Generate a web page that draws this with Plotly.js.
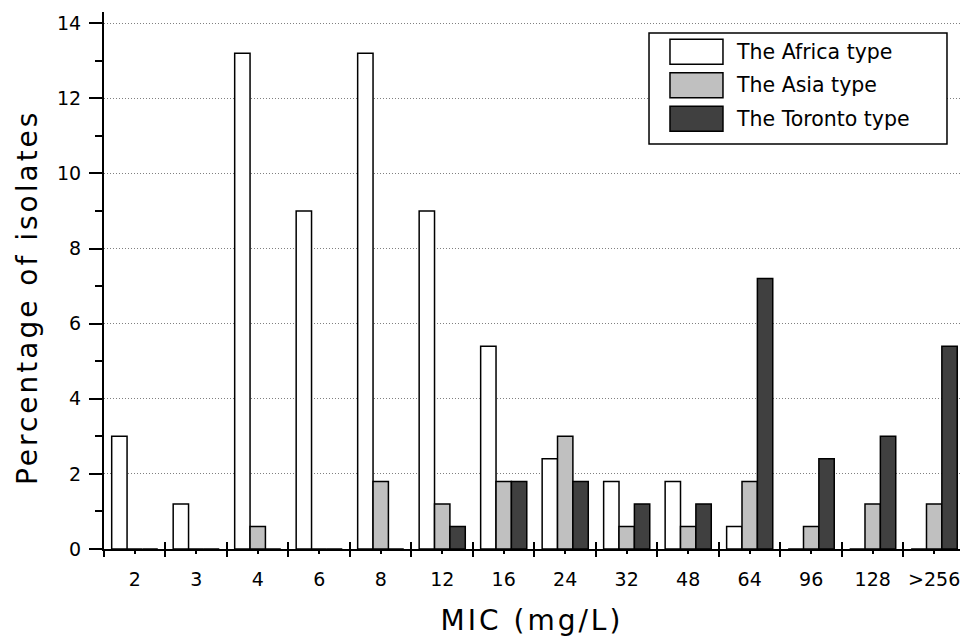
<!DOCTYPE html>
<html>
<head>
<meta charset="utf-8">
<script src="https://cdn.plot.ly/plotly-3.0.1.min.js"></script>
<style>
  html, body { margin: 0; padding: 0; background: #fff; }
  #chart { width: 960px; height: 642px; }
  .g-xtitle text { letter-spacing: 3px; }
  .annotation[data-index="3"] text { letter-spacing: 3px; }
</style>
</head>
<body>
<div id="chart"></div>
<script>
// ---- data ----
const categories = ['2', '3', '4', '6', '8', '12', '16', '24', '32', '48', '64', '96', '128', '>256'];
const africa  = [3.0, 1.2, 13.2, 9.0, 13.2, 9.0, 5.4, 2.4, 1.8, 1.8, 0.6, 0, 0, 0];
const asia    = [0, 0, 0.6, 0, 1.8, 1.2, 1.8, 3.0, 0.6, 0.6, 1.8, 0.6, 1.2, 1.2];
const toronto = [0, 0, 0, 0, 0, 0.6, 1.8, 1.8, 1.2, 1.2, 7.2, 2.4, 3.0, 5.4];
const seriesNames  = ['The Africa type', 'The Asia type', 'The Toronto type'];
const seriesValues = [africa, asia, toronto];
const seriesColors = ['#ffffff', '#c0c0c0', '#404040'];
const xTitle = 'MIC (mg/L)';
const yTitle = 'Percentage of isolates';
const yTicks = [0, 2, 4, 6, 8, 10, 12, 14];

const FONT = '"DejaVu Sans", Verdana, sans-serif';
const xRange = [-0.5, 13.42];
const boundaries = categories.map((c, i) => i - 0.5).concat([categories.length - 0.5]);

const traces = seriesValues.map((vals, k) => ({
  type: 'bar',
  name: seriesNames[k],
  x: categories,
  y: vals,
  xaxis: 'x',
  yaxis: 'y',
  marker: { color: seriesColors[k], line: { color: '#000', width: 1.5 } },
  showlegend: false,
  hoverinfo: 'x+y+name'
}));
// empty helper traces so the overlay tick axes are drawn
traces.push({ type: 'scatter', x: [], y: [], xaxis: 'x2', yaxis: 'y', showlegend: false, hoverinfo: 'skip' });
traces.push({ type: 'scatter', x: [], y: [], xaxis: 'x3', yaxis: 'y', showlegend: false, hoverinfo: 'skip' });

// manual legend with large swatches
const shapes = [];
const annotations = [];
const lgX0 = 0.6367, lgX1 = 0.9848, lgY0 = 0.7542, lgY1 = 0.9609;
shapes.push({ type: 'rect', xref: 'paper', yref: 'paper', x0: lgX0, x1: lgX1, y0: lgY0, y1: lgY1,
  fillcolor: '#fff', line: { color: '#000', width: 1.5 }, layer: 'above' });
const rowCenters = [0.9259, 0.8635, 0.8011];
const swH = 0.0466;
seriesNames.forEach((name, k) => {
  shapes.push({ type: 'rect', xref: 'paper', yref: 'paper', x0: 0.6612, x1: 0.7231,
    y0: rowCenters[k] - swH / 2, y1: rowCenters[k] + swH / 2,
    fillcolor: seriesColors[k], line: { color: '#000', width: 1.5 }, layer: 'above' });
  annotations.push({ xref: 'paper', yref: 'paper', x: 0.7360, y: rowCenters[k],
    xanchor: 'left', yanchor: 'middle', showarrow: false, text: name,
    font: { family: FONT, size: 20.5, color: '#000' } });
});
// y-axis title (placed as in the reference, slightly below the plot centre)
annotations.push({ xref: 'paper', yref: 'paper', x: -0.090, y: 0.469,
  xanchor: 'center', yanchor: 'middle', textangle: -90, showarrow: false, text: yTitle,
  font: { family: FONT, size: 28, color: '#000' } });

const layout = {
  width: 960, height: 642,
  margin: { l: 104, r: 0, t: 12, b: 93 },
  paper_bgcolor: '#fff', plot_bgcolor: '#fff',
  barmode: 'group', bargap: 0.25, bargroupgap: 0,
  showlegend: false,
  font: { family: FONT, color: '#000' },
  xaxis: {
    type: 'category', range: xRange, fixedrange: true,
    showline: true, linecolor: '#000', linewidth: 2,
    ticks: 'outside', ticklen: 3, tickwidth: 2, tickcolor: '#000',
    ticklabelstandoff: 9,
    tickfont: { family: FONT, size: 19, color: '#000' },
    showgrid: false, zeroline: false,
    title: { text: xTitle, font: { family: FONT, size: 28, color: '#000' }, standoff: 22 }
  },
  xaxis2: {
    type: 'linear', overlaying: 'x', anchor: 'y', range: xRange, fixedrange: true,
    tickmode: 'array', tickvals: boundaries, showticklabels: false,
    ticks: 'outside', ticklen: 7, tickwidth: 2, tickcolor: '#000',
    showgrid: false, zeroline: false, showline: false
  },
  xaxis3: {
    type: 'linear', overlaying: 'x', anchor: 'y', range: xRange, fixedrange: true,
    tickmode: 'array', tickvals: boundaries, showticklabels: false,
    ticks: 'inside', ticklen: 7, tickwidth: 2, tickcolor: '#000',
    showgrid: false, zeroline: false, showline: false
  },
  yaxis: {
    range: [0, 14.3], fixedrange: true,
    tickmode: 'array', tickvals: yTicks,
    showline: true, linecolor: '#000', linewidth: 2,
    ticks: 'outside', ticklen: 13, tickwidth: 2, tickcolor: '#000',
    ticklabelstandoff: 4,
    minor: { dtick: 1, tick0: 0, ticks: 'outside', ticklen: 7, tickwidth: 2, tickcolor: '#000', showgrid: false },
    tickfont: { family: FONT, size: 19, color: '#000' },
    showgrid: true, gridcolor: '#808080', gridwidth: 1, griddash: '1px,2px',
    zeroline: false
  },
  shapes: shapes,
  annotations: annotations
};

Plotly.newPlot('chart', traces, layout, { displayModeBar: false, staticPlot: true });
</script>
</body>
</html>
